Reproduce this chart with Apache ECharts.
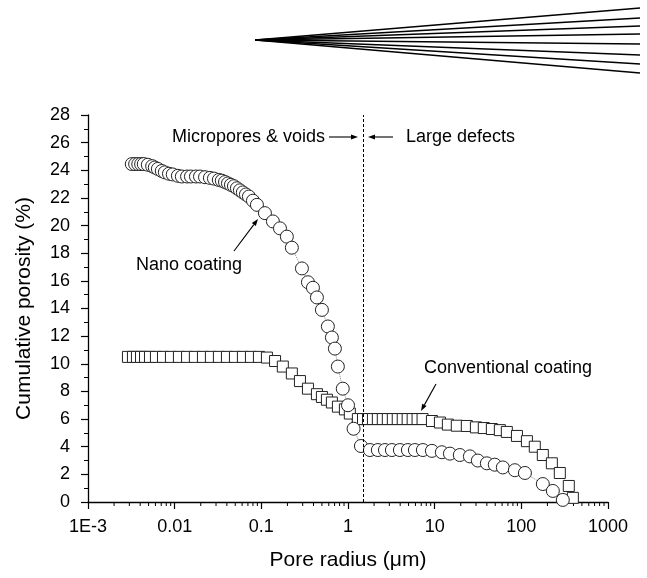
<!DOCTYPE html>
<html>
<head>
<meta charset="utf-8">
<title>Cumulative porosity</title>
<script src="https://cdn.jsdelivr.net/npm/echarts@6/dist/echarts.min.js"></script>
<style>
    html, body { margin: 0; padding: 0; background: #fff; }
    #chart { width: 647px; height: 578px; }
</style>
</head>
<body>
<div id="chart"></div>
<script>
    // nano coating (circles)
    var nanoRadius = [0.0032, 0.0035, 0.0038, 0.0041, 0.0044, 0.0049, 0.0055, 0.0059, 0.0064, 0.0071, 0.0077, 0.0086, 0.0095,
        0.0109, 0.0121, 0.0139, 0.0154, 0.0176, 0.0196,
        0.0224, 0.0255, 0.0284, 0.0323, 0.035, 0.0381, 0.0412, 0.0446, 0.0483, 0.0523, 0.0566, 0.0612, 0.0664, 0.0719,
        0.080, 0.089, 0.110, 0.136, 0.164, 0.197, 0.225,
        0.294, 0.345, 0.394, 0.438, 0.500, 0.586, 0.652, 0.706, 0.764, 0.87,
        1.0, 1.16, 1.41,
        1.79, 2.21, 2.67, 3.21, 3.97, 4.91, 5.91, 7.31, 9.29,
        12.1, 15.0, 19.5, 25.5, 31.5, 40.0, 49.4, 61.2, 84.2, 110,
        177, 231, 301];
    var nanoPorosity = [24.45, 24.45, 24.45, 24.45, 24.45, 24.4, 24.3, 24.2, 24.1, 23.95, 23.85, 23.75, 23.7,
        23.6, 23.55, 23.55, 23.55, 23.55, 23.55,
        23.5, 23.45, 23.4, 23.3, 23.25, 23.15, 23.05, 22.95, 22.85, 22.7, 22.55, 22.4, 22.25, 22.1,
        21.8, 21.5, 20.9, 20.3, 19.8, 19.2, 18.4,
        16.9, 15.9, 15.5, 14.8, 13.9, 12.7, 11.9, 11.1, 9.8, 8.2,
        7.0, 5.3, 4.05,
        3.76, 3.76, 3.76, 3.76, 3.76, 3.76, 3.76, 3.76, 3.7,
        3.6, 3.5, 3.4, 3.3, 3.0, 2.8, 2.7, 2.5, 2.3, 2.1,
        1.3, 0.8, 0.15];

    // conventional coating (squares)
    var convRadius = [0.00289, 0.0033, 0.00367, 0.00409, 0.00455, 0.00519, 0.00608, 0.00733, 0.00906, 0.0112,
        0.0139, 0.0171, 0.0212, 0.0262, 0.0324, 0.0401, 0.0496, 0.0613, 0.0759, 0.0938,
        0.116, 0.144, 0.177, 0.225, 0.279, 0.345, 0.438, 0.500, 0.571, 0.652, 0.765, 0.921, 1.05,
        1.30, 1.49, 1.70, 1.94, 2.21, 2.52, 2.88, 3.29, 3.75, 4.28, 4.88, 5.57, 6.35, 7.25,
        9.3, 11.5, 14.2, 18.0, 23.5, 29.9, 36.9, 45.7, 56.5, 68, 89, 116, 143, 177, 225, 278, 353, 393];
    var convPorosity = [10.5, 10.5, 10.5, 10.5, 10.5, 10.5, 10.5, 10.5, 10.5, 10.5,
        10.5, 10.5, 10.5, 10.5, 10.5, 10.5, 10.5, 10.5, 10.5, 10.5,
        10.45, 10.2, 9.8, 9.3, 8.75, 8.2, 7.8, 7.6, 7.4, 7.2, 6.9, 6.7, 6.4,
        6.0, 6.0, 6.0, 6.0, 6.0, 6.0, 6.0, 6.0, 6.0, 6.0, 6.0, 6.0, 6.0, 6.0,
        5.86, 5.75, 5.6, 5.52, 5.5, 5.4, 5.35, 5.28, 5.2, 5.07, 4.78, 4.4, 4.0, 3.4, 2.8, 2.1, 1.16, 0.3];

    var xTickLabels = ['1E-3', '0.01', '0.1', '1', '10', '100', '1000'];
    var boundaryRadius = 1.5;

    // minor ticks 2..9 in every decade
    var xMinorTicks = [];
    for (var d = 0.001; d < 999; d *= 10) {
        for (var k = 2; k <= 9; k++) xMinorTicks.push([+(d * k).toPrecision(2), 0]);
    }

    function pairs(xs, ys) {
        return xs.map(function (x, i) { return [x, ys[i]]; });
    }

    var fontName = '"Liberation Sans", Arial, sans-serif';
    var black = '#000';

    function txt(s, x, y, align) {
        return {
            type: 'text', x: x, y: y,
            style: {
                text: s, fill: black, font: '18px ' + fontName,
                align: align, verticalAlign: 'middle',
                textAlign: align, textVerticalAlign: 'middle'
            }
        };
    }
    function arrow(x1, y1, x2, y2) {
        var dx = x2 - x1, dy = y2 - y1;
        var len = Math.sqrt(dx * dx + dy * dy);
        var ux = dx / len, uy = dy / len, h = 7, w = 2.5;
        var bx = x2 - ux * h, by = y2 - uy * h;
        return [
            { type: 'line', shape: { x1: x1, y1: y1, x2: bx, y2: by }, style: { stroke: black, lineWidth: 1.1 } },
            { type: 'polygon', shape: { points: [[x2, y2], [bx - uy * w, by + ux * w], [bx + uy * w, by - ux * w]] }, style: { fill: black } }
        ];
    }

    // the fan of lines above the plot
    var fanEnds = [8, 18, 26, 34, 44, 55, 64, 73];
    var graphics = fanEnds.map(function (ye) {
        return { type: 'line', shape: { x1: 255, y1: 40, x2: 640, y2: ye }, style: { stroke: black, lineWidth: 1.3 } };
    });
    graphics.push(txt('Micropores & voids', 325, 137, 'right'));
    graphics = graphics.concat(arrow(329, 137, 358, 137));
    graphics = graphics.concat(arrow(393, 137, 368, 137));
    graphics.push(txt('Large defects', 406, 137, 'left'));
    graphics.push(txt('Nano coating', 136, 265, 'left'));
    graphics = graphics.concat(arrow(234, 251, 258, 219));
    graphics.push(txt('Conventional coating', 424, 368, 'left'));
    graphics = graphics.concat(arrow(436, 384, 421, 411));

    var chart = echarts.init(document.getElementById('chart'));
    var option = {
        animation: false,
        backgroundColor: '#fff',
        textStyle: { fontFamily: fontName },
        grid: { left: 88, right: 39, top: 115, bottom: 76, containLabel: false, outerBoundsMode: 'none' },
        xAxis: {
            type: 'log', logBase: 10, min: 0.001, max: 1000,
            name: 'Pore radius (μm)', nameLocation: 'middle', nameGap: 48,
            nameTextStyle: { fontSize: 21, color: black, fontFamily: fontName },
            axisLine: { lineStyle: { color: black, width: 1.3 } },
            axisTick: { length: 7, lineStyle: { color: black, width: 1.2 } },
            axisLabel: {
                fontSize: 18, color: black, margin: 16, fontFamily: fontName,
                formatter: function (v) { return xTickLabels[Math.round(Math.log10(v)) + 3]; }
            },
            splitLine: { show: false }
        },
        yAxis: {
            type: 'value', min: 0, max: 28, interval: 2,
            name: 'Cumulative porosity (%)', nameLocation: 'middle', nameGap: 53,
            nameTextStyle: { fontSize: 21, color: black, fontFamily: fontName },
            axisLine: { show: true, lineStyle: { color: black, width: 1.3 } },
            axisTick: { show: true, length: 7, lineStyle: { color: black, width: 1.2 } },
            minorTick: { show: true, splitNumber: 2, length: 4, lineStyle: { color: black, width: 1 } },
            axisLabel: { fontSize: 18, color: black, margin: 18, fontFamily: fontName },
            splitLine: { show: false }
        },
        series: [
            {
                // minor ticks on the log axis, placed by the axis scale
                type: 'custom',
                silent: true,
                clip: false,
                data: xMinorTicks,
                renderItem: function (params, api) {
                    var p = api.coord([api.value(0), 0]);
                    return {
                        type: 'line',
                        shape: { x1: p[0], y1: p[1], x2: p[0], y2: p[1] + 4 },
                        style: { stroke: black, lineWidth: 1 }
                    };
                },
                z: 1
            },
            {
                name: 'Conventional coating',
                type: 'line',
                data: pairs(convRadius, convPorosity),
                symbol: 'rect', symbolSize: 11, showAllSymbol: true,
                itemStyle: { color: '#fff', borderColor: '#222', borderWidth: 1 },
                lineStyle: { color: '#888', width: 1, type: 'dotted' },
                markLine: {
                    silent: true, symbol: 'none', label: { show: false },
                    lineStyle: { color: black, width: 1, type: [3, 2] },
                    data: [{ xAxis: boundaryRadius }]
                }
            },
            {
                name: 'Nano coating',
                type: 'line',
                data: pairs(nanoRadius, nanoPorosity),
                symbol: 'circle', symbolSize: 13, showAllSymbol: true,
                itemStyle: { color: '#fff', borderColor: '#222', borderWidth: 1 },
                lineStyle: { color: '#888', width: 1, type: 'dotted' }
            }
        ],
        graphic: graphics
    };
    chart.setOption(option);
</script>
</body>
</html>
